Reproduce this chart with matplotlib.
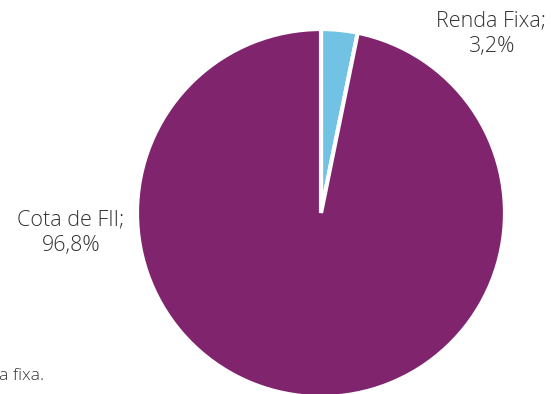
import matplotlib
matplotlib.use("Agg")
import matplotlib.pyplot as plt

categories = ["Renda Fixa", "Cota de FII"]
values = [3.2, 96.8]
value_labels = ["3,2%", "96,8%"]
colors = ["#72C2E4", "#7F246D"]

W, H = 551, 394
fig = plt.figure(figsize=(W / 100, H / 100), dpi=100)
cx, cy, r = 321, 213, 184
ax = fig.add_axes([(cx - r) / W, (H - cy - r) / H, 2 * r / W, 2 * r / H])
ax.pie(values, colors=colors, startangle=90, counterclock=False,
       wedgeprops=dict(edgecolor="white", linewidth=3), radius=1)
ax.set_xlim(-1, 1)
ax.set_ylim(-1, 1)
ax.set_aspect("equal")
ax.axis("off")

font = dict(family=["Open Sans", "DejaVu Sans"], fontweight="light", color="#333333")
fig.text(491 / W, 1 - 34 / H, f"{categories[0]};\n{value_labels[0]}", ha="center", va="center",
         fontsize=15.5, linespacing=1.3, **font)
fig.text(71 / W, 1 - 233 / H, f"{categories[1]};\n{value_labels[1]}", ha="center", va="center",
         fontsize=15.5, linespacing=1.3, **font)
fig.text(-1 / W, 1 - 376 / H, "a fixa.", ha="left", va="center", fontsize=12.5, **font)

fig.savefig("out.png", dpi=100)
